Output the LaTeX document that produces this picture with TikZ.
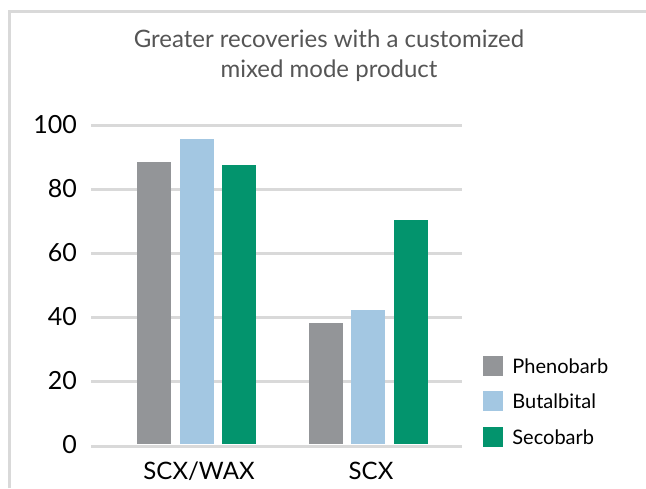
\documentclass[tikz,border=0pt]{standalone}
\usepackage{fontspec}
\setmainfont{Lato}
\usepackage{xcolor}
\definecolor{frameGray}{HTML}{D9D9D9}
\definecolor{titleGray}{HTML}{555555}
\definecolor{phenoColor}{HTML}{939598}
\definecolor{butalColor}{HTML}{A3C7E2}
\definecolor{secoColor}{HTML}{03946D}
\usetikzlibrary{positioning}
\tikzset{
  barBox/.style={
    rectangle,
    inner sep=0pt,
    minimum width=34pt,
    anchor=south
 },
  phenoBar/.style={barBox, fill=phenoColor},
  butalBar/.style={barBox, fill=butalColor},
  secoBar/.style={barBox, fill=secoColor},
  keyBox/.style={
    rectangle,
    inner sep=0pt,
    minimum size=20pt
 },
  keyText/.style={
    inner sep=0pt,
    font=\fontsize{20}{24}\selectfont
 },
  tickLabel/.style={
    anchor=east,
    inner sep=0pt,
    font=\fontsize{25}{30}\selectfont
 },
  catLabel/.style={
    anchor=base,
    inner sep=0pt,
    font=\fontsize{24}{28}\selectfont
 },
  gridLine/.style={
    line width=3pt,
    color=frameGray
 }
}

\begin{document}
\begin{tikzpicture}[x=1pt, y=-1pt]
            \useasboundingbox (0,0) rectangle (646,488);
            % frame
            \draw[gridLine] (9.5,488) -- (9.5,11) -- (646,11);

            % title
            \node[align=center, text=titleGray, font=\fontsize{24}{30}\selectfont] (title) at (329,56) {Greater recoveries with a customized\\mixed mode product};

            % grid and value labels
            \coordinate (g100) at (91,125);
            \coordinate (g80) at (91,189);
            \coordinate (g60) at (91,253);
            \coordinate (g40) at (91,317);
            \coordinate (g20) at (91,381);
            \coordinate (g0) at (91,446);
            \draw[gridLine] (g100) -- +(371,0);
            \draw[gridLine] (g80) -- +(371,0);
            \draw[gridLine] (g60) -- +(371,0);
            \draw[gridLine] (g40) -- +(371,0);
            \draw[gridLine] (g20) -- +(371,0);
            \node[tickLabel] (t100) at (77,125) {100};
            \node[tickLabel] (t80) at (77,189) {80};
            \node[tickLabel] (t60) at (77,253) {60};
            \node[tickLabel] (t40) at (77,317) {40};
            \node[tickLabel] (t20) at (77,381) {20};
            \node[tickLabel] (t0) at (77,445) {0};

            % bars (3.2pt per unit)
            \node[phenoBar, minimum height=88.2*3.2pt] (pheno1) at (154,444.5) {};
            \node[butalBar, minimum height=95.4*3.2pt] (butal1) at (197,444.5) {};
            \node[secoBar, minimum height=87.2*3.2pt] (seco1) at (239,444.5) {};
            \node[phenoBar, minimum height=37.8*3.2pt] (pheno2) at (326,444.5) {};
            \node[butalBar, minimum height=41.9*3.2pt] (butal2) at (368,444.5) {};
            \node[secoBar, minimum height=70*3.2pt] (seco2) at (411,444.5) {};
            \draw[gridLine] (g0) -- +(371,0);

            \node[catLabel] (cat1) at (199,479) {SCX/WAX};
            \node[catLabel] (cat2) at (371,479) {SCX};

            % legend
            \node[keyBox, fill=phenoColor] (key1) at (493,366) {};
            \node[keyBox, fill=butalColor, below=15pt of key1] (key2) {};
            \node[keyBox, fill=secoColor, below=15.5pt of key2] (key3) {};
            \node[keyText, right=9pt of key1] (name1) {Phenobarb};
            \node[keyText, right=9pt of key2] (name2) {Butalbital};
            \node[keyText, right=9pt of key3] (name3) {Secobarb};
        \end{tikzpicture}
\end{document}
